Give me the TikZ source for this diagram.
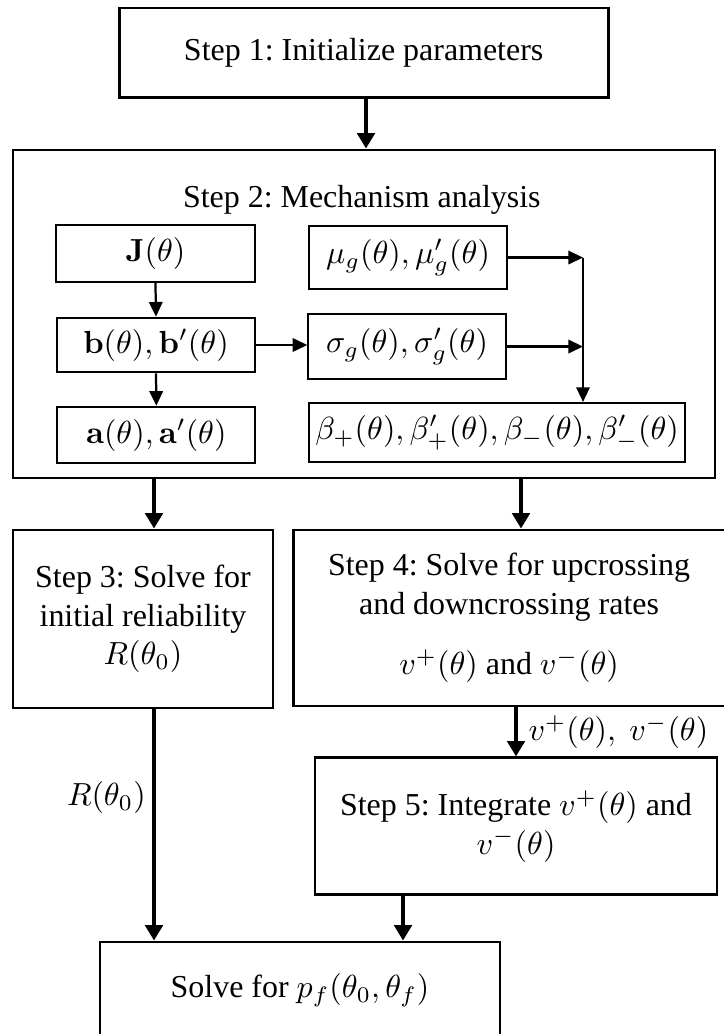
\documentclass[tikz,border=0pt]{standalone}
\usepackage[no-math]{fontspec}
\setmainfont{Liberation Serif}
\usetikzlibrary{arrows.meta}
\frenchspacing

\begin{document}
\begin{tikzpicture}[
    stepbox/.style={draw, line width=0.9pt, align=center, inner sep=2pt},
    subbox/.style={draw, line width=0.65pt, align=center, inner sep=2pt},
    bigarrow/.style={-{Triangle[length=4.8pt,width=5.4pt]}, line width=1.2pt},
    smallarrow/.style={-{Triangle[length=4.6pt,width=4.2pt]}, line width=0.7pt}
  ]
  % Page frame
  \useasboundingbox (0,0) rectangle (7.953,-11.374);

  % Step 1
  \node[stepbox, minimum width=5.38cm, minimum height=0.98cm] (step1) at (4.0,-0.578) {Step 1: Initialize parameters};

  % Step 2 with its inner blocks
  \node[stepbox, minimum width=7.722cm, minimum height=3.608cm] (step2) at (4.004,-3.454) {};
  \node (title2) at (3.98,-2.2) {Step 2: Mechanism analysis};
  \node[subbox, minimum width=2.18cm, minimum height=0.62cm] (J) at (1.71,-2.789) {$\mathbf{J}(\theta)$};
  \node[subbox, minimum width=2.18cm, minimum height=0.6cm] (b) at (1.716,-3.795) {$\mathbf{b}(\theta),\mathbf{b}'(\theta)$};
  \node[subbox, minimum width=2.18cm, minimum height=0.62cm] (a) at (1.72,-4.785) {$\mathbf{a}(\theta),\mathbf{a}'(\theta)$};
  \node[subbox, minimum width=2.17cm, minimum height=0.69cm] (mu) at (4.488,-2.833) {$\mu_g(\theta),\mu'_g(\theta)$};
  \node[subbox, minimum width=2.17cm, minimum height=0.71cm] (sigma) at (4.477,-3.812) {$\sigma_g(\theta),\sigma'_g(\theta)$};
  \node[subbox, anchor=west, minimum width=4.125cm, minimum height=0.65cm] (beta) at (3.388,-4.758) {$\beta_+(\theta),\beta'_+(\theta),\beta_-(\theta),\beta'_-(\theta)$};

  % Inner connectors
  \coordinate (merge) at (6.413,0);
  \draw[smallarrow] (J.south) -- (b.north);
  \draw[smallarrow] (b.south) -- (a.north);
  \draw[smallarrow] (b.east) -- (b.east -| sigma.west);
  \draw[smallarrow] (mu.east) -- (mu.east -| merge);
  \draw[smallarrow] (sigma.east) -- (sigma.east -| merge);
  \draw[smallarrow] (mu.east -| merge) -- (beta.north -| merge);

  % Steps 3 to 5 and the result
  \node[stepbox, minimum width=2.86cm, minimum height=1.958cm] (step3) at (1.573,-6.809) {Step 3: Solve for\\initial reliability\\$R(\theta_0)$};
  \node[stepbox, minimum width=4.752cm, minimum height=1.936cm] (step4) at (5.6,-6.798) {Step 4: Solve for upcrossing\\and downcrossing rates\\[7pt]$v^+(\theta)$ and $v^-(\theta)$};
  \node[stepbox, minimum width=4.422cm, minimum height=1.507cm] (step5) at (5.676,-9.09) {Step 5: Integrate $v^+(\theta)$ and\\$v^-(\theta)$};
  \node[stepbox, minimum width=4.4cm, minimum height=1.056cm] (final) at (3.3,-10.89) {Solve for $p_f(\theta_0,\theta_f)$};

  % Main connectors
  \coordinate (colL) at (1.694,0);
  \coordinate (colR) at (5.731,0);
  \coordinate (colM) at (4.433,0);
  \draw[bigarrow] (step1.south -| 4.026,0) -- (step2.north -| 4.026,0);
  \draw[bigarrow] (step2.south -| colL) -- (step3.north -| colL);
  \draw[bigarrow] (step2.south -| colR) -- (step4.north -| colR);
  \draw[bigarrow] (step4.south -| step5.north) -- (step5.north) node[midway, right] {$v^+(\theta),\ v^-(\theta)$};
  \draw[bigarrow] (step3.south -| colL) -- (final.north -| colL) node[pos=0.38, left, inner sep=2pt] {$R(\theta_0)$};
  \draw[bigarrow] (step5.south -| colM) -- (final.north -| colM);
\end{tikzpicture}
\end{document}
